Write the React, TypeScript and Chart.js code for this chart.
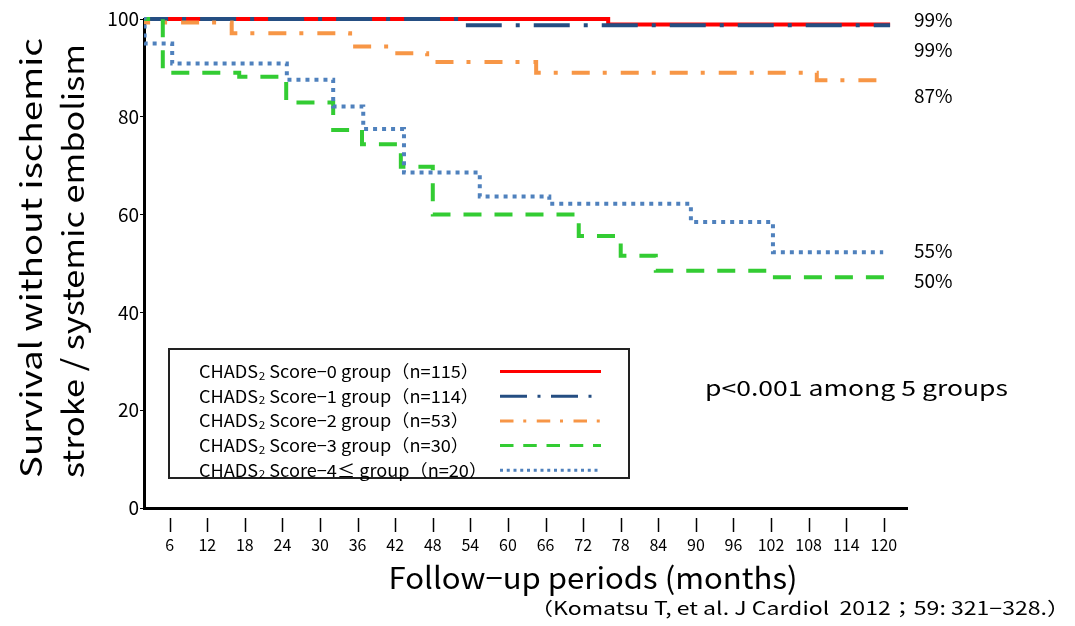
import React, { useEffect, useRef } from "react";
import { Chart, registerables } from "chart.js";

Chart.register(...registerables);

// ---- data (months, survival %) ----
const score0Months = [0, 76.0, 121.0];
const score0Surv = [100, 98.9, 98.9];
const score1Months = [0, 53.6, 121.0];
const score1Surv = [100, 98.7, 98.7];
const score2Months = [0, 15.9, 34.8, 40.9, 47.1, 64.5, 109.3, 120.4];
const score2Surv = [99.3, 97.1, 94.4, 93.0, 91.2, 89.0, 87.5, 87.5];
const score3Months = [0, 4.9, 17.1, 24.6, 32.1, 36.7, 42.9, 48.0, 71.3, 78.0, 83.6, 101.7, 120.7];
const score3Surv = [100, 89.0, 88.2, 82.9, 77.3, 74.4, 69.8, 60.0, 55.6, 51.6, 48.5, 47.2, 47.2];
const score4Months = [0, 2.0, 6.4, 24.7, 32.1, 36.9, 43.4, 55.5, 66.6, 89.2, 102.3, 119.9];
const score4Surv = [100, 95.0, 90.9, 87.6, 82.1, 77.5, 68.6, 63.7, 62.2, 58.5, 52.3, 52.3];

const groupScores = ["0", "1", "2", "3", "4≤"];
const groupCounts = [115, 114, 53, 30, 20];
const endLabels = ["99%", "99%", "87%", "55%", "50%"];
const endLabelY = [20, 50, 96, 251, 281];

const monthTickStep = 6;
const monthTickMax = 120;
const survTicks = [0, 20, 40, 60, 80, 100];

const FONT = "'Noto Sans CJK JP', 'Noto Sans', sans-serif";

const toPts = (xs: number[], ys: number[]) => xs.map((x, i) => ({ x, y: ys[i] }));

// draw text stretched horizontally to a target width
function fitText(ctx: CanvasRenderingContext2D, text: string, x: number, y: number, width: number, align: "left" | "center" | "right") {
  const w = ctx.measureText(text).width;
  const sx = width / w;
  ctx.save();
  ctx.translate(x, y);
  ctx.scale(sx, 1);
  ctx.textAlign = align;
  ctx.fillText(text, 0, 0);
  ctx.restore();
}

export default function App() {
  const ref = useRef<HTMLCanvasElement | null>(null);

  useEffect(() => {
    if (!ref.current) return;

    const datasets: any[] = [
      { data: toPts(score0Months, score0Surv), borderColor: "#ff0000", borderWidth: 4, borderDash: [], order: 5 },
      { data: toPts(score1Months, score1Surv), borderColor: "#254e82", borderWidth: 4, borderDash: [36, 14, 4, 14], order: 4 },
      { data: toPts(score2Months, score2Surv), borderColor: "#f79646", borderWidth: 4, borderDash: [18, 13, 4, 14], order: 3 },
      { data: toPts(score3Months, score3Surv), borderColor: "#33cc33", borderWidth: 4, borderDash: [18, 13], order: 2 },
      { data: toPts(score4Months, score4Surv), borderColor: "#4f81bd", borderWidth: 4, borderDash: [4, 5], order: 1 },
    ].map((d) => ({
      ...d,
      stepped: "before",
      pointRadius: 0,
      fill: false,
      borderCapStyle: "butt",
      clip: { left: 0, top: 4, right: 4, bottom: 4 },
    }));

    const decor = {
      id: "decor",
      afterDraw(chart: any) {
        const ctx = chart.ctx as CanvasRenderingContext2D;
        const xs = chart.scales.x;
        ctx.save();
        // x tick marks (detached from axis)
        ctx.strokeStyle = "#000";
        ctx.lineWidth = 1.5;
        for (let v = monthTickStep; v <= monthTickMax; v += monthTickStep) {
          const px = Math.round(xs.getPixelForValue(v)) + 0.5;
          ctx.beginPath();
          ctx.moveTo(px, 518);
          ctx.lineTo(px, 532);
          ctx.stroke();
        }
        ctx.fillStyle = "#000";
        ctx.textBaseline = "middle";
        // y title
        ctx.font = `30px ${FONT}`;
        ctx.save();
        ctx.translate(31, 258);
        ctx.rotate(-Math.PI / 2);
        fitText(ctx, "Survival without ischemic", 0, 0, 440, "center");
        ctx.restore();
        ctx.save();
        ctx.translate(73, 261);
        ctx.rotate(-Math.PI / 2);
        fitText(ctx, "stroke / systemic embolism", 0, 0, 434, "center");
        ctx.restore();
        // x title
        ctx.font = `30px ${FONT}`;
        fitText(ctx, "Follow−up periods (months)", 593, 578, 409, "center");
        // citation
        ctx.font = `18px ${FONT}`;
        fitText(ctx, "（Komatsu T, et al. J Cardiol  2012；59: 321−328.）", 1070, 608, 540, "right");
        // p-value
        ctx.font = `21px ${FONT}`;
        fitText(ctx, "p<0.001 among 5 groups", 705, 388, 303, "left");
        // end labels
        ctx.font = `19px ${FONT}`;
        ctx.textAlign = "left";
        endLabels.forEach((t, i) => ctx.fillText(t, 914, endLabelY[i]));
        // legend
        ctx.lineWidth = 2;
        ctx.strokeStyle = "#222";
        ctx.strokeRect(169, 349, 460, 129);
        // horizontal stretch factor for legend text from first row
        ctx.font = `17px ${FONT}`;
        const row0 = `CHADS Score−${groupScores[0]} group（n=${groupCounts[0]}）`;
        ctx.font = `17px ${FONT}`;
        const w0 = ctx.measureText(row0).width;
        ctx.font = `11px ${FONT}`;
        const w2 = ctx.measureText("2").width + 0.5;
        const sx = 280 / (w0 + w2);
        groupScores.forEach((s, i) => {
          const y = 371.5 + i * 24.7;
          ctx.save();
          ctx.translate(199, y);
          ctx.scale(sx, 1);
          let x = 0;
          ctx.setLineDash([]);
          ctx.fillStyle = "#000";
          ctx.textAlign = "left";
          ctx.font = `17px ${FONT}`;
          ctx.fillText("CHADS", x, 0);
          x += ctx.measureText("CHADS").width;
          ctx.font = `11px ${FONT}`;
          ctx.fillText("2", x + 0.5, 4);
          x += ctx.measureText("2").width + 0.5;
          ctx.font = `17px ${FONT}`;
          ctx.fillText(` Score−${s} group（n=${groupCounts[i]}）`, x, 0);
          ctx.restore();
          const ds = chart.data.datasets[i];
          ctx.strokeStyle = ds.borderColor;
          ctx.lineWidth = 3;
          ctx.setLineDash(ds.borderDash.map((d: number) => d * 0.75));
          ctx.beginPath();
          ctx.moveTo(500, y);
          ctx.lineTo(601, y);
          ctx.stroke();
        });
        ctx.restore();
      },
    };

    const chart = new Chart(ref.current, {
      type: "line",
      data: { datasets },
      options: {
        animation: false,
        responsive: false,
        devicePixelRatio: 1,
        layout: { padding: { left: 0, top: 19, right: 168, bottom: 0 } },
        plugins: { legend: { display: false }, tooltip: { enabled: false } },
        scales: {
          x: {
            type: "linear",
            min: 1.9,
            max: 123.7,
            afterFit: (s: any) => { s.height = 118; },
            afterBuildTicks: (s: any) => {
              const t = [];
              for (let v = monthTickStep; v <= monthTickMax; v += monthTickStep) t.push({ value: v });
              s.ticks = t;
            },
            ticks: { autoSkip: false, maxRotation: 0, padding: 27, color: "#000", font: { family: FONT, size: 16 } },
            grid: { display: true, drawOnChartArea: false, drawTicks: false },
            border: { display: true, color: "#000", width: 3 },
          },
          y: {
            type: "linear",
            min: 0,
            max: 100,
            afterFit: (s: any) => { s.width = 144; },
            afterBuildTicks: (s: any) => { s.ticks = survTicks.map((v) => ({ value: v })); },
            ticks: { padding: 1, color: "#000", font: { family: FONT, size: 19 } },
            grid: { display: true, drawOnChartArea: false, drawTicks: true, tickLength: 4, color: "#000", lineWidth: 1 },
            border: { display: true, color: "#000", width: 3 },
          },
        },
      },
      plugins: [decor],
    } as any);

    return () => chart.destroy();
  }, []);

  return (
    <div style={{ position: "fixed", left: 0, top: 0, width: 1075, height: 626, background: "#fff" }}>
      <canvas ref={ref} width={1075} height={626} style={{ width: 1075, height: 626 }} />
    </div>
  );
}
